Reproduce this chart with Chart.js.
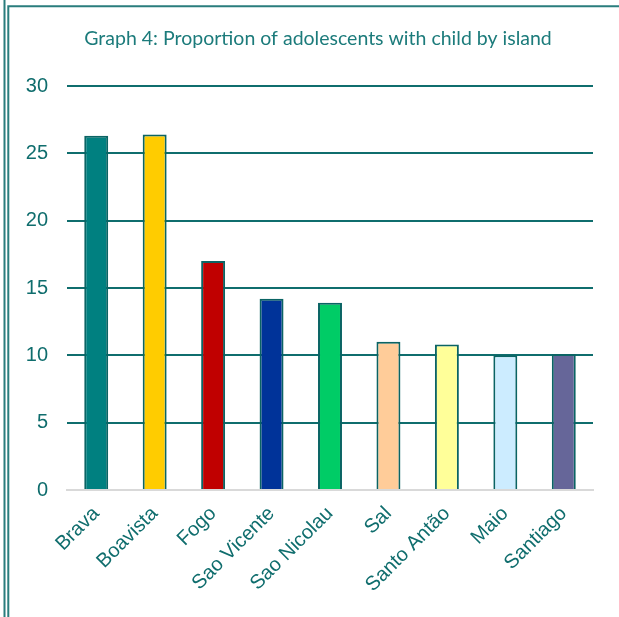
<!DOCTYPE html>
<html>
<head>
<meta charset="utf-8">
<title>Graph 4</title>
<script src="https://cdn.jsdelivr.net/npm/chart.js@4.4.0/dist/chart.umd.min.js"></script>
<style>
    html, body { margin: 0; padding: 0; background: #fff; }
    #chart-box { width: 619px; height: 617px; }
</style>
</head>
<body>
<div id="chart-box"><canvas id="island-chart" width="619" height="617"></canvas></div>
<script>
    // Proportion of adolescents with child, by island
    var chartTitle = "Graph 4: Proportion of adolescents with child by island";
    var islands = ["Brava", "Boavista", "Fogo", "Sao Vicente", "Sao Nicolau", "Sal", "Santo Antão", "Maio", "Santiago"];
    var proportions = [26.3, 26.4, 17.0, 14.2, 13.9, 11.0, 10.8, 10.0, 10.1];
    var yTicks = [0, 5, 10, 15, 20, 25, 30];

    var barColors = ["#008080", "#FFCC00", "#C00000", "#003399", "#00CC66", "#FFCC99", "#FFFF99", "#CCECFF", "#666699"];
    var teal = "#0f6d6d";

    // Frame lines round the chart (double rule on the left, single on top) and the title
    var framePlugin = {
        id: "frame",
        beforeDraw: function (chart) {
            var c = chart.ctx;
            c.save();
            c.strokeStyle = "#2a7d7d";
            c.lineWidth = 2;
            c.beginPath();
            c.moveTo(4.5, 0);
            c.lineTo(4.5, chart.height);
            c.moveTo(8.3, chart.height);
            c.lineTo(8.3, 6.2);
            c.lineTo(chart.width, 6.2);
            c.stroke();

            // title sits a bit right of the canvas centre
            c.fillStyle = "#1c7b7b";
            c.font = "19.5px Lato, 'Open Sans', sans-serif";
            c.textAlign = "center";
            c.textBaseline = "middle";
            c.fillText(chartTitle, 318, 39);
            c.restore();
        }
    };

    var ctx = document.getElementById("island-chart").getContext("2d");
    var myChart = new Chart(ctx, {
        type: "bar",
        data: {
            labels: islands,
            datasets: [{
                data: proportions,
                backgroundColor: barColors,
                borderColor: "#0b6464",
                borderWidth: 2,
                categoryPercentage: 1,
                barPercentage: 0.41
            }]
        },
        options: {
            responsive: false,
            animation: false,
            layout: {
                padding: { left: 17, right: 26, top: 86, bottom: 0 }
            },
            plugins: {
                legend: { display: false },
                tooltip: { enabled: false },
                title: { display: false }
            },
            scales: {
                x: {
                    grid: { display: false, drawTicks: false },
                    border: { display: true, color: "#d9d9d9", width: 2 },
                    ticks: {
                        color: teal,
                        minRotation: 45,
                        maxRotation: 45,
                        autoSkip: false,
                        padding: 12,
                        font: { family: "'Liberation Sans', Arial, sans-serif", size: 20 }
                    },
                    afterFit: function (scale) {
                        scale.height = 127;
                    }
                },
                y: {
                    min: 0,
                    max: 30,
                    afterBuildTicks: function (scale) {
                        scale.ticks = yTicks.map(function (v) { return { value: v }; });
                    },
                    border: { display: false },
                    grid: {
                        drawTicks: false,
                        lineWidth: 2,
                        color: function (c) {
                            return c.tick && c.tick.value === 0 ? "rgba(0,0,0,0)" : teal;
                        }
                    },
                    ticks: {
                        color: teal,
                        padding: 19,
                        font: { family: "'Liberation Sans', Arial, sans-serif", size: 20 }
                    },
                    afterFit: function (scale) {
                        scale.width = 50;
                    }
                }
            }
        },
        plugins: [framePlugin]
    });
</script>
</body>
</html>
